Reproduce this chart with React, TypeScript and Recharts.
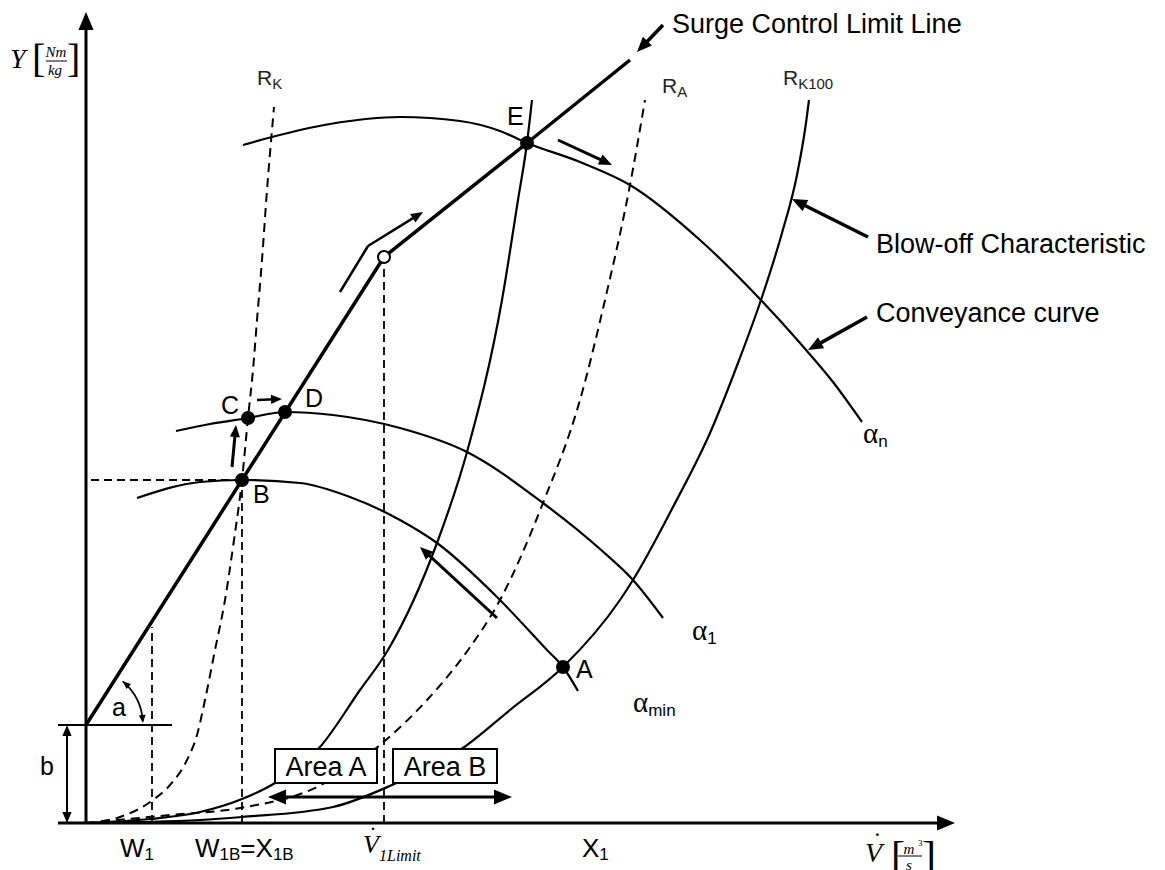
import React from 'react';
import { ComposedChart, Line, XAxis, YAxis, ReferenceLine, ReferenceDot, ReferenceArea } from 'recharts';

// plane: x = volume flow, y = head; (0,0) is where the two axes meet
const surgeLimit = [
  { x: 0, y: 98 }, { x: 298, y: 566 }, { x: 441, y: 680 }, { x: 544, y: 763 },
];

// conveyance curves for different guide vane settings
const alphaN = [
  { x: 157, y: 678 }, { x: 186, y: 686 }, { x: 244, y: 699 }, { x: 314, y: 706 },
  { x: 374, y: 702 }, { x: 414, y: 692 }, { x: 441, y: 680 }, { x: 494, y: 661 },
  { x: 544, y: 638 }, { x: 614, y: 583 }, { x: 672, y: 526 }, { x: 714, y: 480 },
  { x: 747, y: 441 }, { x: 776, y: 401 },
];
const alpha1 = [
  { x: 90, y: 392 }, { x: 124, y: 399 }, { x: 162, y: 405 }, { x: 199, y: 411 },
  { x: 247, y: 408 }, { x: 314, y: 395 }, { x: 381, y: 371 }, { x: 457, y: 320 },
  { x: 514, y: 274 }, { x: 547, y: 243 }, { x: 577, y: 205 },
];
const alphaMin = [
  { x: 51, y: 325 }, { x: 114, y: 341 }, { x: 156, y: 343 }, { x: 214, y: 340 },
  { x: 264, y: 326 }, { x: 314, y: 303 }, { x: 351, y: 280 }, { x: 411, y: 226 },
  { x: 461, y: 173 }, { x: 477, y: 156 }, { x: 492, y: 132 },
];

// resistance (plant) curves
const resistE = [
  { x: 0, y: 0 }, { x: 64, y: 4 }, { x: 114, y: 11 }, { x: 156, y: 24 },
  { x: 189, y: 40 }, { x: 234, y: 76 }, { x: 274, y: 133 }, { x: 302, y: 173 },
  { x: 351, y: 280 }, { x: 381, y: 371 }, { x: 416, y: 523 }, { x: 432, y: 623 },
  { x: 441, y: 680 }, { x: 446, y: 723 },
];
const resistK = [
  { x: 0, y: 0 }, { x: 34, y: 6 }, { x: 67, y: 23 }, { x: 84, y: 38 },
  { x: 101, y: 63 }, { x: 111, y: 88 }, { x: 119, y: 123 }, { x: 129, y: 173 },
  { x: 139, y: 223 }, { x: 148, y: 283 }, { x: 156, y: 343 }, { x: 162, y: 405 },
  { x: 167, y: 453 }, { x: 171, y: 503 }, { x: 176, y: 563 }, { x: 181, y: 633 },
  { x: 186, y: 693 }, { x: 188, y: 716 },
];
const resistA = [
  { x: 0, y: 0 }, { x: 84, y: 8 }, { x: 154, y: 15 }, { x: 231, y: 36 },
  { x: 294, y: 78 }, { x: 341, y: 123 }, { x: 382, y: 173 }, { x: 414, y: 223 },
  { x: 457, y: 320 }, { x: 494, y: 423 }, { x: 519, y: 523 }, { x: 544, y: 638 },
  { x: 559, y: 723 },
];
const resistK100 = [
  { x: 0, y: 0 }, { x: 114, y: 3 }, { x: 156, y: 6 }, { x: 247, y: 16 },
  { x: 306, y: 38 }, { x: 377, y: 75 }, { x: 424, y: 113 }, { x: 477, y: 156 },
  { x: 534, y: 223 }, { x: 547, y: 243 }, { x: 587, y: 316 }, { x: 624, y: 390 },
  { x: 652, y: 460 }, { x: 676, y: 526 }, { x: 696, y: 590 }, { x: 711, y: 648 },
  { x: 720, y: 700 }, { x: 723, y: 723 },
];
const bentArrowTail = [{ x: 254, y: 531 }, { x: 282, y: 577 }];

const points = [
  { name: 'E', x: 441, y: 680 },
  { name: 'D', x: 199, y: 411 },
  { name: 'C', x: 162, y: 405 },
  { name: 'B', x: 156, y: 343 },
  { name: 'A', x: 477, y: 156 },
];
const limitPoint = { x: 298, y: 566 };

const pointLabels = [
  { text: 'E', x: 421, y: 698 },
  { text: 'D', x: 219, y: 416 },
  { text: 'C', x: 135, y: 409 },
  { text: 'B', x: 167, y: 320 },
  { text: 'A', x: 490, y: 145 },
  { text: 'a', x: 26, y: 107 },
  { text: 'b', x: -46, y: 48 },
];
const notes = [
  { text: 'Surge Control Limit Line', x: 586, y: 790 },
  { text: 'Blow-off Characteristic', x: 790, y: 570 },
  { text: 'Conveyance curve', x: 790, y: 501 },
];
const rLabels = [
  { sub: 'K', x: 171, y: 738 },
  { sub: 'A', x: 576, y: 730 },
  { sub: 'K100', x: 697, y: 738 },
];
const alphaLabels = [
  { sub: 'n', x: 777, y: 380 },
  { sub: '1', x: 606, y: 183 },
  { sub: 'min', x: 547, y: 111 },
];
const axisLabels = [
  { main: 'W', sub: '1', x: 34, y: -34 },
  { main: 'X', sub: '1', x: 496, y: -34 },
];
const areas = [
  { name: 'Area A', x1: 189, x2: 291 },
  { name: 'Area B', x1: 307, x2: 411 },
];
const dashedGuides = [
  { x1: 66, y1: 0, x2: 66, y2: 196 },
  { x1: 156, y1: 0, x2: 156, y2: 343 },
  { x1: 5, y1: 343, x2: 156, y2: 343 },
  { x1: 298, y1: 0, x2: 298, y2: 559 },
];
const arrows = [
  { x1: 146, y1: 356, x2: 150, y2: 398, w: 3, h: 12 },
  { x1: 171, y1: 423, x2: 196, y2: 424, w: 2.5, h: 11 },
  { x1: 282, y1: 577, x2: 337, y2: 611, w: 2.5, h: 12 },
  { x1: 472, y1: 683, x2: 526, y2: 658, w: 3, h: 13 },
  { x1: 411, y1: 205, x2: 334, y2: 276, w: 3, h: 13 },
  { x1: 577, y1: 798, x2: 551, y2: 771, w: 3.5, h: 15 },
  { x1: 782, y1: 586, x2: 706, y2: 624, w: 3.5, h: 15 },
  { x1: 781, y1: 506, x2: 722, y2: 473, w: 3.5, h: 15 },
];

const SANS = '"Liberation Sans", Arial, Helvetica, sans-serif';
const SERIF = '"Liberation Serif", "Times New Roman", serif';

const head = (tx: number, ty: number, ang: number, len: number) => {
  const hw = len * 0.42;
  const bx = tx - len * Math.cos(ang);
  const by = ty - len * Math.sin(ang);
  return `${tx},${ty} ${bx + hw * Math.sin(ang)},${by - hw * Math.cos(ang)} ${bx - hw * Math.sin(ang)},${by + hw * Math.cos(ang)}`;
};

const arrowShape = (w: number, len: number, both = false) => (p: any) => {
  const { x1, y1, x2, y2 } = p;
  const a = Math.atan2(y2 - y1, x2 - x1);
  const sx = both ? x1 + len * 0.7 * Math.cos(a) : x1;
  const sy = both ? y1 + len * 0.7 * Math.sin(a) : y1;
  return (
    <g>
      <line x1={sx} y1={sy} x2={x2 - len * 0.7 * Math.cos(a)} y2={y2 - len * 0.7 * Math.sin(a)} stroke="#000" strokeWidth={w} />
      <polygon points={head(x2, y2, a, len)} fill="#000" />
      {both && <polygon points={head(x1, y1, a + Math.PI, len)} fill="#000" />}
    </g>
  );
};

// small double headed arc that marks the angle a
const angleArc = (p: any) => {
  const { cx, cy } = p;
  const r = 57;
  const t0 = (-50 * Math.PI) / 180;
  const t1 = (-4 * Math.PI) / 180;
  const sx = cx + r * Math.cos(t0), sy = cy + r * Math.sin(t0);
  const ex = cx + r * Math.cos(t1), ey = cy + r * Math.sin(t1);
  return (
    <g>
      <path d={`M${sx},${sy} A${r},${r} 0 0 1 ${ex},${ey}`} fill="none" stroke="#000" strokeWidth={1.8} />
      <polygon points={head(sx, sy, Math.atan2(-Math.cos(t0), Math.sin(t0)), 8)} fill="#000" />
      <polygon points={head(ex, ey + 2, Math.atan2(Math.cos(t1), -Math.sin(t1)), 8)} fill="#000" />
    </g>
  );
};

const yUnit = (p: any) => {
  const { cx, cy } = p;
  return (
    <g fontFamily={SERIF} fill="#000">
      <text x={cx} y={cy} fontSize={28} fontStyle="italic">Y</text>
      <text x={cx + 22} y={cy + 4} fontSize={40}>[</text>
      <text x={cx + 46} y={cy - 11} fontSize={15} fontStyle="italic" textAnchor="middle">Nm</text>
      <line x1={cx + 36} y1={cy - 7} x2={cx + 57} y2={cy - 7} stroke="#000" strokeWidth={1} />
      <text x={cx + 45} y={cy + 7} fontSize={15} fontStyle="italic" textAnchor="middle">kg</text>
      <text x={cx + 57} y={cy + 4} fontSize={40}>]</text>
    </g>
  );
};

const vUnit = (p: any) => {
  const { cx, cy } = p;
  return (
    <g fontFamily={SERIF} fill="#000">
      <text x={cx} y={cy} fontSize={28} fontStyle="italic">V</text>
      <text x={cx + 8} y={cy - 12} fontSize={26}>˙</text>
      <text x={cx + 26} y={cy + 8} fontSize={42}>[</text>
      <text x={cx + 44} y={cy - 8} fontSize={15} fontStyle="italic" textAnchor="middle">m</text>
      <text x={cx + 53} y={cy - 16} fontSize={9}>3</text>
      <line x1={cx + 33} y1={cy - 6} x2={cx + 57} y2={cy - 6} stroke="#000" strokeWidth={1} />
      <text x={cx + 44} y={cy + 8} fontSize={15} fontStyle="italic" textAnchor="middle">s</text>
      <text x={cx + 57} y={cy + 8} fontSize={42}>]</text>
    </g>
  );
};

const vLimit = (p: any) => {
  const { cx, cy } = p;
  return (
    <g fontFamily={SERIF} fill="#000" fontStyle="italic">
      <text x={cx} y={cy} fontSize={26}>V</text>
      <text x={cx + 6} y={cy - 10} fontSize={24} fontStyle="normal">˙</text>
      <text x={cx + 16} y={cy + 8} fontSize={16}>1Limit</text>
    </g>
  );
};

const curve = (data: { x: number; y: number }[], width = 2, dash?: string) => (
  <Line
    data={data}
    dataKey="y"
    type="monotone"
    stroke="#000"
    strokeWidth={width}
    strokeDasharray={dash}
    dot={false}
    activeDot={false}
    isAnimationActive={false}
  />
);

export default function App() {
  return (
    <div style={{ position: 'absolute', left: 0, top: 0, background: '#fff' }}>
      <ComposedChart width={1165} height={870} margin={{ top: 0, right: 0, bottom: 0, left: 0 }}>
        <XAxis type="number" dataKey="x" domain={[-86, 1079]} hide allowDataOverflow />
        <YAxis type="number" domain={[-47, 823]} hide allowDataOverflow />

        {dashedGuides.map((g, i) => (
          <ReferenceLine key={'g' + i} segment={[{ x: g.x1, y: g.y1 }, { x: g.x2, y: g.y2 }]} stroke="#000" strokeWidth={1.8} strokeDasharray="8 5" ifOverflow="visible" />
        ))}
        <ReferenceLine segment={[{ x: -28, y: 98 }, { x: 86, y: 98 }]} stroke="#000" strokeWidth={2} ifOverflow="visible" />

        {curve(resistK, 2, '9 6')}
        {curve(resistA, 2, '9 6')}
        {curve(resistE, 2.2)}
        {curve(resistK100, 2.2)}
        {curve(alphaN, 2.2)}
        {curve(alpha1, 2.2)}
        {curve(alphaMin, 2.2)}
        {curve(bentArrowTail, 2.5)}
        <Line data={surgeLimit} dataKey="y" type="linear" stroke="#000" strokeWidth={3.5} dot={false} activeDot={false} isAnimationActive={false} />

        {/* axes with arrow heads */}
        <ReferenceLine segment={[{ x: 0, y: 0 }, { x: 0, y: 811 }]} shape={arrowShape(3, 18)} ifOverflow="visible" />
        <ReferenceLine segment={[{ x: -28, y: 0 }, { x: 869, y: 0 }]} shape={arrowShape(3, 18)} ifOverflow="visible" />
        <ReferenceLine segment={[{ x: -19, y: 0 }, { x: -19, y: 98 }]} shape={arrowShape(2, 11, true)} ifOverflow="visible" />
        <ReferenceLine segment={[{ x: 182, y: 26 }, { x: 426, y: 26 }]} shape={arrowShape(3, 18, true)} ifOverflow="visible" />
        {arrows.map((a, i) => (
          <ReferenceLine key={'a' + i} segment={[{ x: a.x1, y: a.y1 }, { x: a.x2, y: a.y2 }]} shape={arrowShape(a.w, a.h)} ifOverflow="visible" />
        ))}

        {areas.map((a) => (
          <ReferenceArea
            key={a.name}
            x1={a.x1}
            x2={a.x2}
            y1={40}
            y2={74}
            fill="#fff"
            fillOpacity={1}
            stroke="#000"
            strokeWidth={2}
            ifOverflow="visible"
            zIndex={900}
            label={{ value: a.name, position: 'center', fontSize: 27, fill: '#000', fontFamily: SANS }}
          />
        ))}

        {points.map((p) => (
          <ReferenceDot key={p.name} x={p.x} y={p.y} r={7} fill="#000" stroke="none" ifOverflow="visible" />
        ))}
        <ReferenceDot x={limitPoint.x} y={limitPoint.y} r={6} fill="#fff" stroke="#000" strokeWidth={2} ifOverflow="visible" />
        <ReferenceDot x={0} y={98} r={0} ifOverflow="visible" shape={angleArc} />

        {pointLabels.map((l) => (
          <ReferenceDot key={'l' + l.text} x={l.x} y={l.y} r={0} ifOverflow="visible"
            shape={(p: any) => <text x={p.cx} y={p.cy} fontSize={25} fontFamily={SANS} fill="#000">{l.text}</text>} />
        ))}
        {notes.map((n) => (
          <ReferenceDot key={n.text} x={n.x} y={n.y} r={0} ifOverflow="visible"
            shape={(p: any) => <text x={p.cx} y={p.cy} fontSize={27} fontFamily={SANS} fill="#000">{n.text}</text>} />
        ))}
        {rLabels.map((l) => (
          <ReferenceDot key={'r' + l.sub} x={l.x} y={l.y} r={0} ifOverflow="visible"
            shape={(p: any) => (
              <text x={p.cx} y={p.cy} fontSize={21} fontFamily={SANS} fill="#222">
                R<tspan fontSize={15} dy={4}>{l.sub}</tspan>
              </text>
            )} />
        ))}
        {alphaLabels.map((l) => (
          <ReferenceDot key={'al' + l.sub} x={l.x} y={l.y} r={0} ifOverflow="visible"
            shape={(p: any) => (
              <text x={p.cx} y={p.cy} fill="#000">
                <tspan fontSize={29} fontFamily={SERIF}>α</tspan>
                <tspan fontSize={17} fontFamily={SANS} dy={4}>{l.sub}</tspan>
              </text>
            )} />
        ))}
        {axisLabels.map((l) => (
          <ReferenceDot key={'ax' + l.main} x={l.x} y={l.y} r={0} ifOverflow="visible"
            shape={(p: any) => (
              <text x={p.cx} y={p.cy} fontSize={26} fontFamily={SANS} fill="#000">
                {l.main}<tspan fontSize={17} dy={3}>{l.sub}</tspan>
              </text>
            )} />
        ))}
        <ReferenceDot x={109} y={-34} r={0} ifOverflow="visible"
          shape={(p: any) => (
            <text x={p.cx} y={p.cy} fontSize={26} fontFamily={SANS} fill="#000">
              W<tspan fontSize={17} dy={3}>1B</tspan><tspan dy={-3}>=X</tspan><tspan fontSize={17} dy={3}>1B</tspan>
            </text>
          )} />
        <ReferenceDot x={277} y={-30} r={0} ifOverflow="visible" shape={vLimit} />
        <ReferenceDot x={-76} y={755} r={0} ifOverflow="visible" shape={yUnit} />
        <ReferenceDot x={779} y={-39} r={0} ifOverflow="visible" shape={vUnit} />
      </ComposedChart>
    </div>
  );
}
